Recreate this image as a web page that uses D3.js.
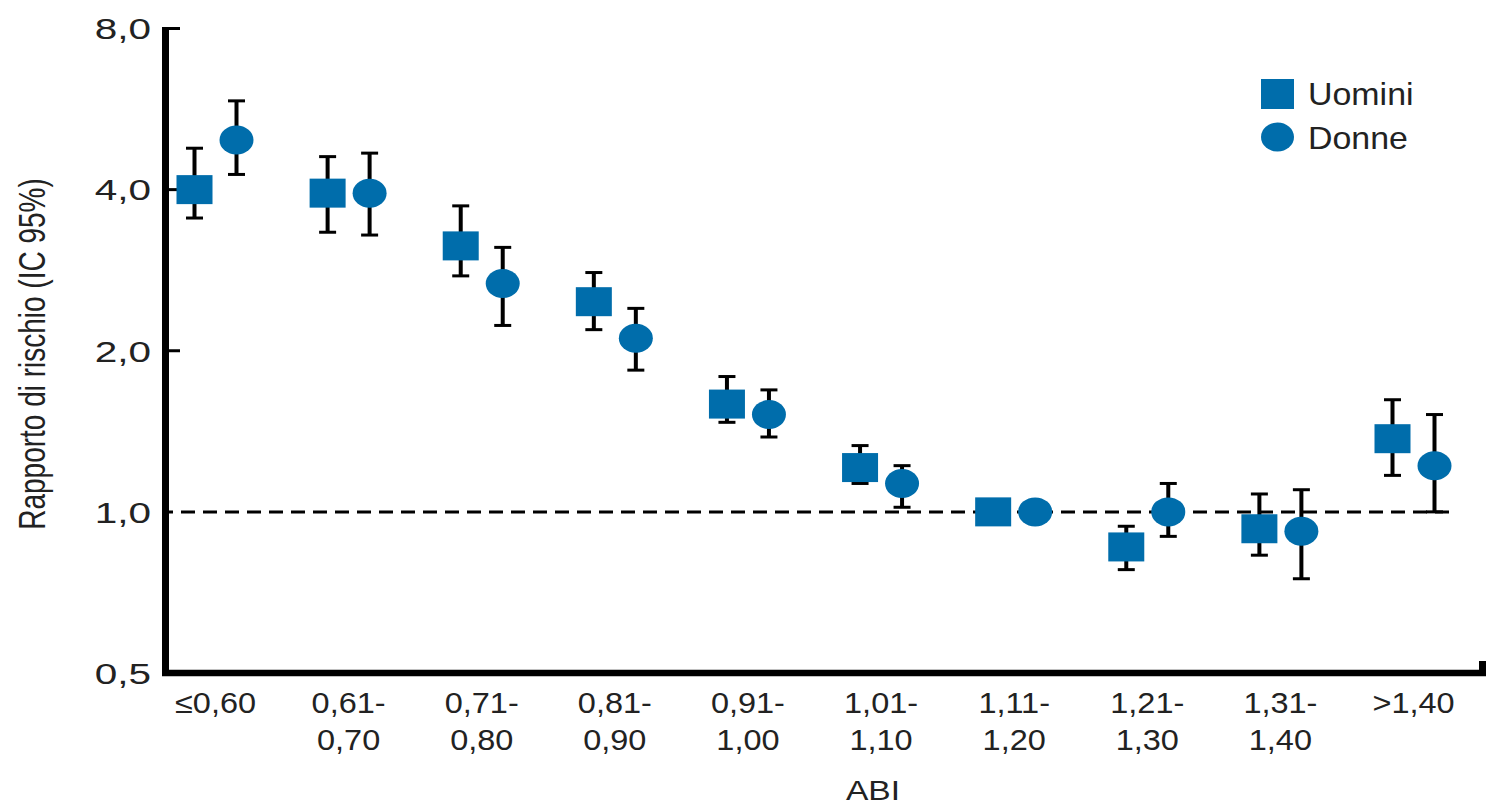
<!DOCTYPE html>
<html>
<head>
<meta charset="utf-8">
<script src="https://cdn.jsdelivr.net/npm/d3@7"></script>
<style>
  html, body { margin: 0; padding: 0; background: #fff; }
  svg { display: block; }
  text { font-family: "Liberation Sans", Arial, sans-serif; fill: #222; }
</style>
</head>
<body>
<svg id="chart" width="1486" height="806"></svg>
<script>
// ABI classes (two-line tick labels)
const categoriesTop = ["≤0,60", "0,61-", "0,71-", "0,81-", "0,91-", "1,01-", "1,11-", "1,21-", "1,31-", ">1,40"];
const categoriesBottom = ["", "0,70", "0,80", "0,90", "1,00", "1,10", "1,20", "1,30", "1,40", ""];

// Hazard ratio with 95% CI — men
const uominiHR   = [4.00, 3.94, 3.14, 2.47, 1.59, 1.21, 1.00, 0.86, 0.93, 1.37];
const uominiLow  = [3.54, 3.33, 2.76, 2.19, 1.47, 1.13, null, 0.78, 0.83, 1.17];
const uominiHigh = [4.78, 4.61, 3.73, 2.80, 1.79, 1.33, null, 0.94, 1.08, 1.62];

// Hazard ratio with 95% CI — women
const donneHR   = [4.95, 3.94, 2.67, 2.11, 1.52, 1.13, 1.00, 1.00, 0.92, 1.22];
const donneLow  = [4.27, 3.29, 2.23, 1.84, 1.38, 1.02, null, 0.90, 0.75, 1.00];
const donneHigh = [5.86, 4.68, 3.12, 2.40, 1.69, 1.22, null, 1.13, 1.10, 1.52];

const yTickValues = [0.5, 1, 2, 4, 8];
const yTickLabels = ["0,5", "1,0", "2,0", "4,0", "8,0"];
const legendLabels = ["Uomini", "Donne"];

const blue = "#006dab";
const svg = d3.select("#chart");

const y = d3.scaleLog().base(2).domain([0.5, 8]).range([673, 28.5]);
const x = d3.scalePoint().domain(d3.range(categoriesTop.length)).range([215.5, 1413.5]);
const offset = 21;

// reference line at HR = 1
svg.append("line")
  .attr("x1", 169).attr("x2", 1451)
  .attr("y1", y(1)).attr("y2", y(1))
  .attr("stroke", "#000").attr("stroke-width", 3)
  .attr("stroke-dasharray", "14 8").attr("stroke-dashoffset", 10);

// axes
svg.append("line").attr("x1", 165.5).attr("x2", 165.5).attr("y1", 27).attr("y2", 676)
  .attr("stroke", "#000").attr("stroke-width", 7);
svg.append("line").attr("x1", 162).attr("x2", 1486).attr("y1", 673).attr("y2", 673)
  .attr("stroke", "#000").attr("stroke-width", 6.5);
svg.append("line").attr("x1", 1482.5).attr("x2", 1482.5).attr("y1", 661).attr("y2", 676)
  .attr("stroke", "#000").attr("stroke-width", 7);

// y tick marks
svg.selectAll(".ytick").data([2, 4, 8]).enter().append("line")
  .attr("x1", 169).attr("x2", 180)
  .attr("y1", d => y(d)).attr("y2", d => y(d))
  .attr("stroke", "#000").attr("stroke-width", 3);

// y tick labels
svg.selectAll(".ylab").data(yTickValues).enter().append("text")
  .attr("transform", d => `translate(151,${y(d)}) scale(1.35,1)`)
  .attr("text-anchor", "end").attr("dy", "0.36em")
  .style("font-size", "30px")
  .text((d, i) => yTickLabels[i]);

// y axis title
svg.append("text")
  .attr("transform", "translate(45,354) rotate(-90) scale(1,1.35)")
  .attr("text-anchor", "middle")
  .style("font-size", "28px")
  .text("Rapporto di rischio (IC 95%)");

// x category labels
const xl = svg.selectAll(".xlab").data(categoriesTop).enter().append("g")
  .attr("transform", (d, i) => `translate(${x(i)},0)`);
xl.append("text").attr("transform", "translate(0,713) scale(1.12,1)")
  .attr("text-anchor", "middle").style("font-size", "29px").text(d => d);
xl.append("text").attr("transform", "translate(0,750) scale(1.12,1)")
  .attr("text-anchor", "middle").style("font-size", "29px").text((d, i) => categoriesBottom[i]);

// x axis title
svg.append("text").attr("transform", "translate(873,800) scale(1.2,1)")
  .attr("text-anchor", "middle").style("font-size", "28px").text("ABI");

// error bars
function errorBars(low, high, dx) {
  const rows = low.map((l, i) => ({ i, l, h: high[i] })).filter(r => r.l != null);
  const g = svg.append("g").attr("stroke", "#000");
  g.selectAll(".v").data(rows).enter().append("line")
    .attr("x1", r => x(r.i) + dx).attr("x2", r => x(r.i) + dx)
    .attr("y1", r => y(r.h)).attr("y2", r => y(r.l))
    .attr("stroke-width", 4);
  g.selectAll(".ct").data(rows).enter().append("line")
    .attr("x1", r => x(r.i) + dx - 8.5).attr("x2", r => x(r.i) + dx + 8.5)
    .attr("y1", r => y(r.h)).attr("y2", r => y(r.h))
    .attr("stroke-width", 3);
  g.selectAll(".cb").data(rows).enter().append("line")
    .attr("x1", r => x(r.i) + dx - 8.5).attr("x2", r => x(r.i) + dx + 8.5)
    .attr("y1", r => y(r.l)).attr("y2", r => y(r.l))
    .attr("stroke-width", 3);
}
errorBars(uominiLow, uominiHigh, -offset);
errorBars(donneLow, donneHigh, offset);

// markers: squares for men, circles for women
svg.selectAll(".sq").data(uominiHR).enter().append("rect")
  .attr("x", (d, i) => x(i) - offset - 18).attr("y", d => y(d) - 14.5)
  .attr("width", 36).attr("height", 29).attr("fill", blue);
svg.selectAll(".ci").data(donneHR).enter().append("ellipse")
  .attr("cx", (d, i) => x(i) + offset).attr("cy", d => y(d))
  .attr("rx", 17).attr("ry", 14.5).attr("fill", blue);

// legend
svg.append("rect").attr("x", 1261).attr("y", 79).attr("width", 33).attr("height", 30).attr("fill", blue);
svg.append("ellipse").attr("cx", 1277.5).attr("cy", 137).attr("rx", 16.5).attr("ry", 14.5).attr("fill", blue);
svg.selectAll(".leg").data(legendLabels).enter().append("text")
  .attr("transform", (d, i) => `translate(1308,${105 + i * 44.3}) scale(1.06,1)`)
  .style("font-size", "32px").text(d => d);
</script>
</body>
</html>
